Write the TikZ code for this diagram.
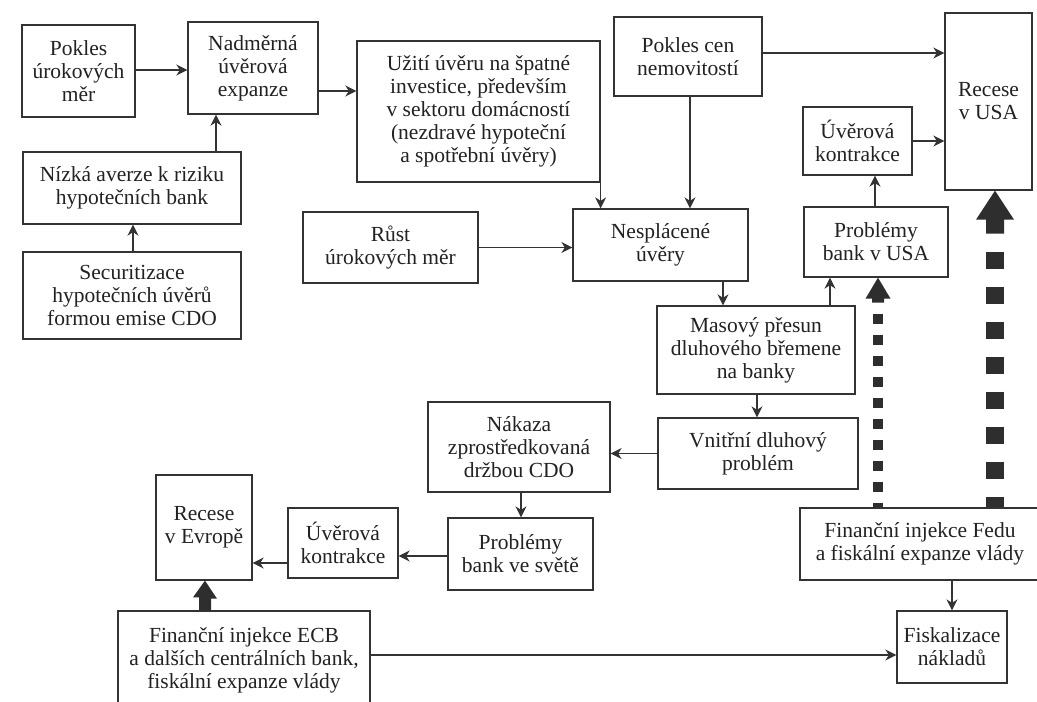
\documentclass[tikz,border=0pt]{standalone}
\usepackage{fontspec}
\setmainfont{Liberation Serif}
\usetikzlibrary{arrows.meta,calc}
\definecolor{linec}{HTML}{333333}
\definecolor{textc}{HTML}{222222}
\definecolor{fillc}{HTML}{2E2E2E}
\tikzset{
  box/.style={draw=linec, line width=1.3pt, inner sep=0pt, align=center,
    font=\fontsize{21.5}{23}\selectfont, text=textc, fill=white},
  arr/.style={draw=linec, line width=1.4pt, -{Stealth[length=11pt,width=11pt,inset=3.5pt]}},
  bigarrow/.style={fill=fillc, draw=none},
  dotsS/.style={draw=fillc, line width=10pt, dash pattern=on 10pt off 11pt, dash phase=10pt},
  dotsL/.style={draw=fillc, line width=18pt, dash pattern=on 17pt off 18pt, dash phase=17pt}
}
\newcommand\bx[6]{\node[box, minimum width={#4-#2}, minimum height={#5-#3}] (#1) at ({(#2+#4)/2},{(#3+#5)/2}) {#6};}
\begin{document}
\begin{tikzpicture}[x=1pt,y=-1pt]
\path[use as bounding box] (0,0) rectangle (1037,702);
\clip (0,0) rectangle (1037,702);
\fill[white] (0,0) rectangle (1037,702);
% boxes
\bx{pur}{22}{25}{135}{117}{Pokles\\úrokových\\měr}
\bx{nad}{188}{22}{318}{114}{Nadměrná\\úvěrová\\expanze}
\bx{niz}{23}{152}{241}{224}{Nízká averze k riziku\\hypotečních bank}
\bx{sec}{23}{252}{241}{339}{Securitizace\\hypotečních úvěrů\\formou emise CDO}
\bx{uzi}{357}{41}{600}{182}{Užití úvěru na špatné\\investice, především\\v sektoru domácností\\(nezdravé hypoteční\\a spotřební úvěry)}
\bx{pcn}{614}{17}{762}{96}{Pokles cen\\nemovitostí}
\bx{rusa}{945}{13}{1032}{190}{Recese\\v USA}
\bx{ukusa}{803}{107}{912}{175}{Úvěrová\\kontrakce}
\bx{pbusa}{804}{207}{948}{277}{Problémy\\bank v USA}
\bx{rust}{303}{212}{478}{283}{Růst\\úrokových měr}
\bx{nes}{573}{209}{748}{281}{Nesplácené\\úvěry}
\bx{mas}{657}{306}{855}{394}{Masový přesun\\dluhového břemene\\na banky}
\bx{vni}{658}{418}{858}{489}{Vnitřní dluhový\\problém}
\bx{nak}{428}{402}{610}{492}{Nákaza\\zprostředkovaná\\držbou CDO}
\bx{pbs}{448}{518}{593}{590}{Problémy\\bank ve světě}
\bx{ukeu}{288}{508}{398}{578}{Úvěrová\\kontrakce}
\bx{reu}{156}{475}{252}{580}{Recese\\v Evropě}
\bx{ecb}{118}{611}{370}{710}{Finanční injekce ECB\\a dalších centrálních bank,\\fiskální expanze vlády}
\bx{fed}{800}{508}{1040}{580}{Finanční injekce Fedu\\a fiskální expanze vlády}
\bx{fisk}{897}{611}{1007}{683}{Fiskalizace\\nákladů}
% thin connectors
\draw[arr] (pur.east |- 0,70) -- (nad.west |- 0,70);
\draw[arr] (nad.east |- 0,91) -- (uzi.west |- 0,91);
\draw[arr] (niz.north -| 216,0) -- (nad.south -| 216,0);
\draw[arr] (sec.north -| 133,0) -- (niz.south -| 133,0);
\draw[arr] (uzi.south east) -- (uzi.south east |- nes.north);
\draw[arr] (pcn.south -| 690,0) -- (nes.north -| 690,0);
\draw[arr] (pcn.east |- 0,53) -- (rusa.west |- 0,53);
\draw[arr] (rust.east) -- (rust.east -| nes.west);
\draw[arr] (nes.south -| 723,0) -- (mas.north -| 723,0);
\draw[arr] (mas.north -| 830,0) -- (pbusa.south -| 830,0);
\draw[arr] (pbusa.north -| 875,0) -- (ukusa.south -| 875,0);
\draw[arr] (ukusa.east) -- (ukusa.east -| rusa.west);
\draw[arr] (mas.south -| 757,0) -- (vni.north -| 757,0);
\draw[arr] (vni.west) -- (vni.west -| nak.east);
\draw[arr] (nak.south -| 521,0) -- (pbs.north -| 521,0);
\draw[arr] (pbs.west |- 0,556) -- (ukeu.east |- 0,556);
\draw[arr] (ukeu.west |- 0,563) -- (reu.east |- 0,563);
\draw[arr] (ecb.east |- 0,655) -- (fisk.west |- 0,655);
\draw[arr] (fed.south -| 952,0) -- (fisk.north -| 952,0);
% thick arrow ECB -> Recese v Evrope
\path[bigarrow] (reu.south -| 205,0) -- ++(12,18) -- ++(-6,0) -- (ecb.north -| 211,0)
  -- (ecb.north -| 199,0) -- ++(0,-13) -- ++(-6,0) -- cycle;
% dashed thick arrow Fed -> Problemy bank v USA
\path[bigarrow] (pbusa.south -| 878,0) -- ++(12.5,21) -- ++(-6.5,0) -- ++(0,4) -- ++(-12,0)
  -- ++(0,-4) -- ++(-6.5,0) -- cycle;
\draw[dotsS] ($(pbusa.south -| 878,0)+(0,25)$) -- (fed.north -| 878,0);
% dashed thick arrow Fed -> Recese v USA
\path[bigarrow] (rusa.south -| 995,0) -- ++(19,29) -- ++(-10,0) -- ++(0,14) -- ++(-18,0)
  -- ++(0,-14) -- ++(-10,0) -- cycle;
\draw[dotsL] ($(rusa.south -| 995,0)+(0,43)$) -- (fed.north -| 995,0);
\end{tikzpicture}
\end{document}
